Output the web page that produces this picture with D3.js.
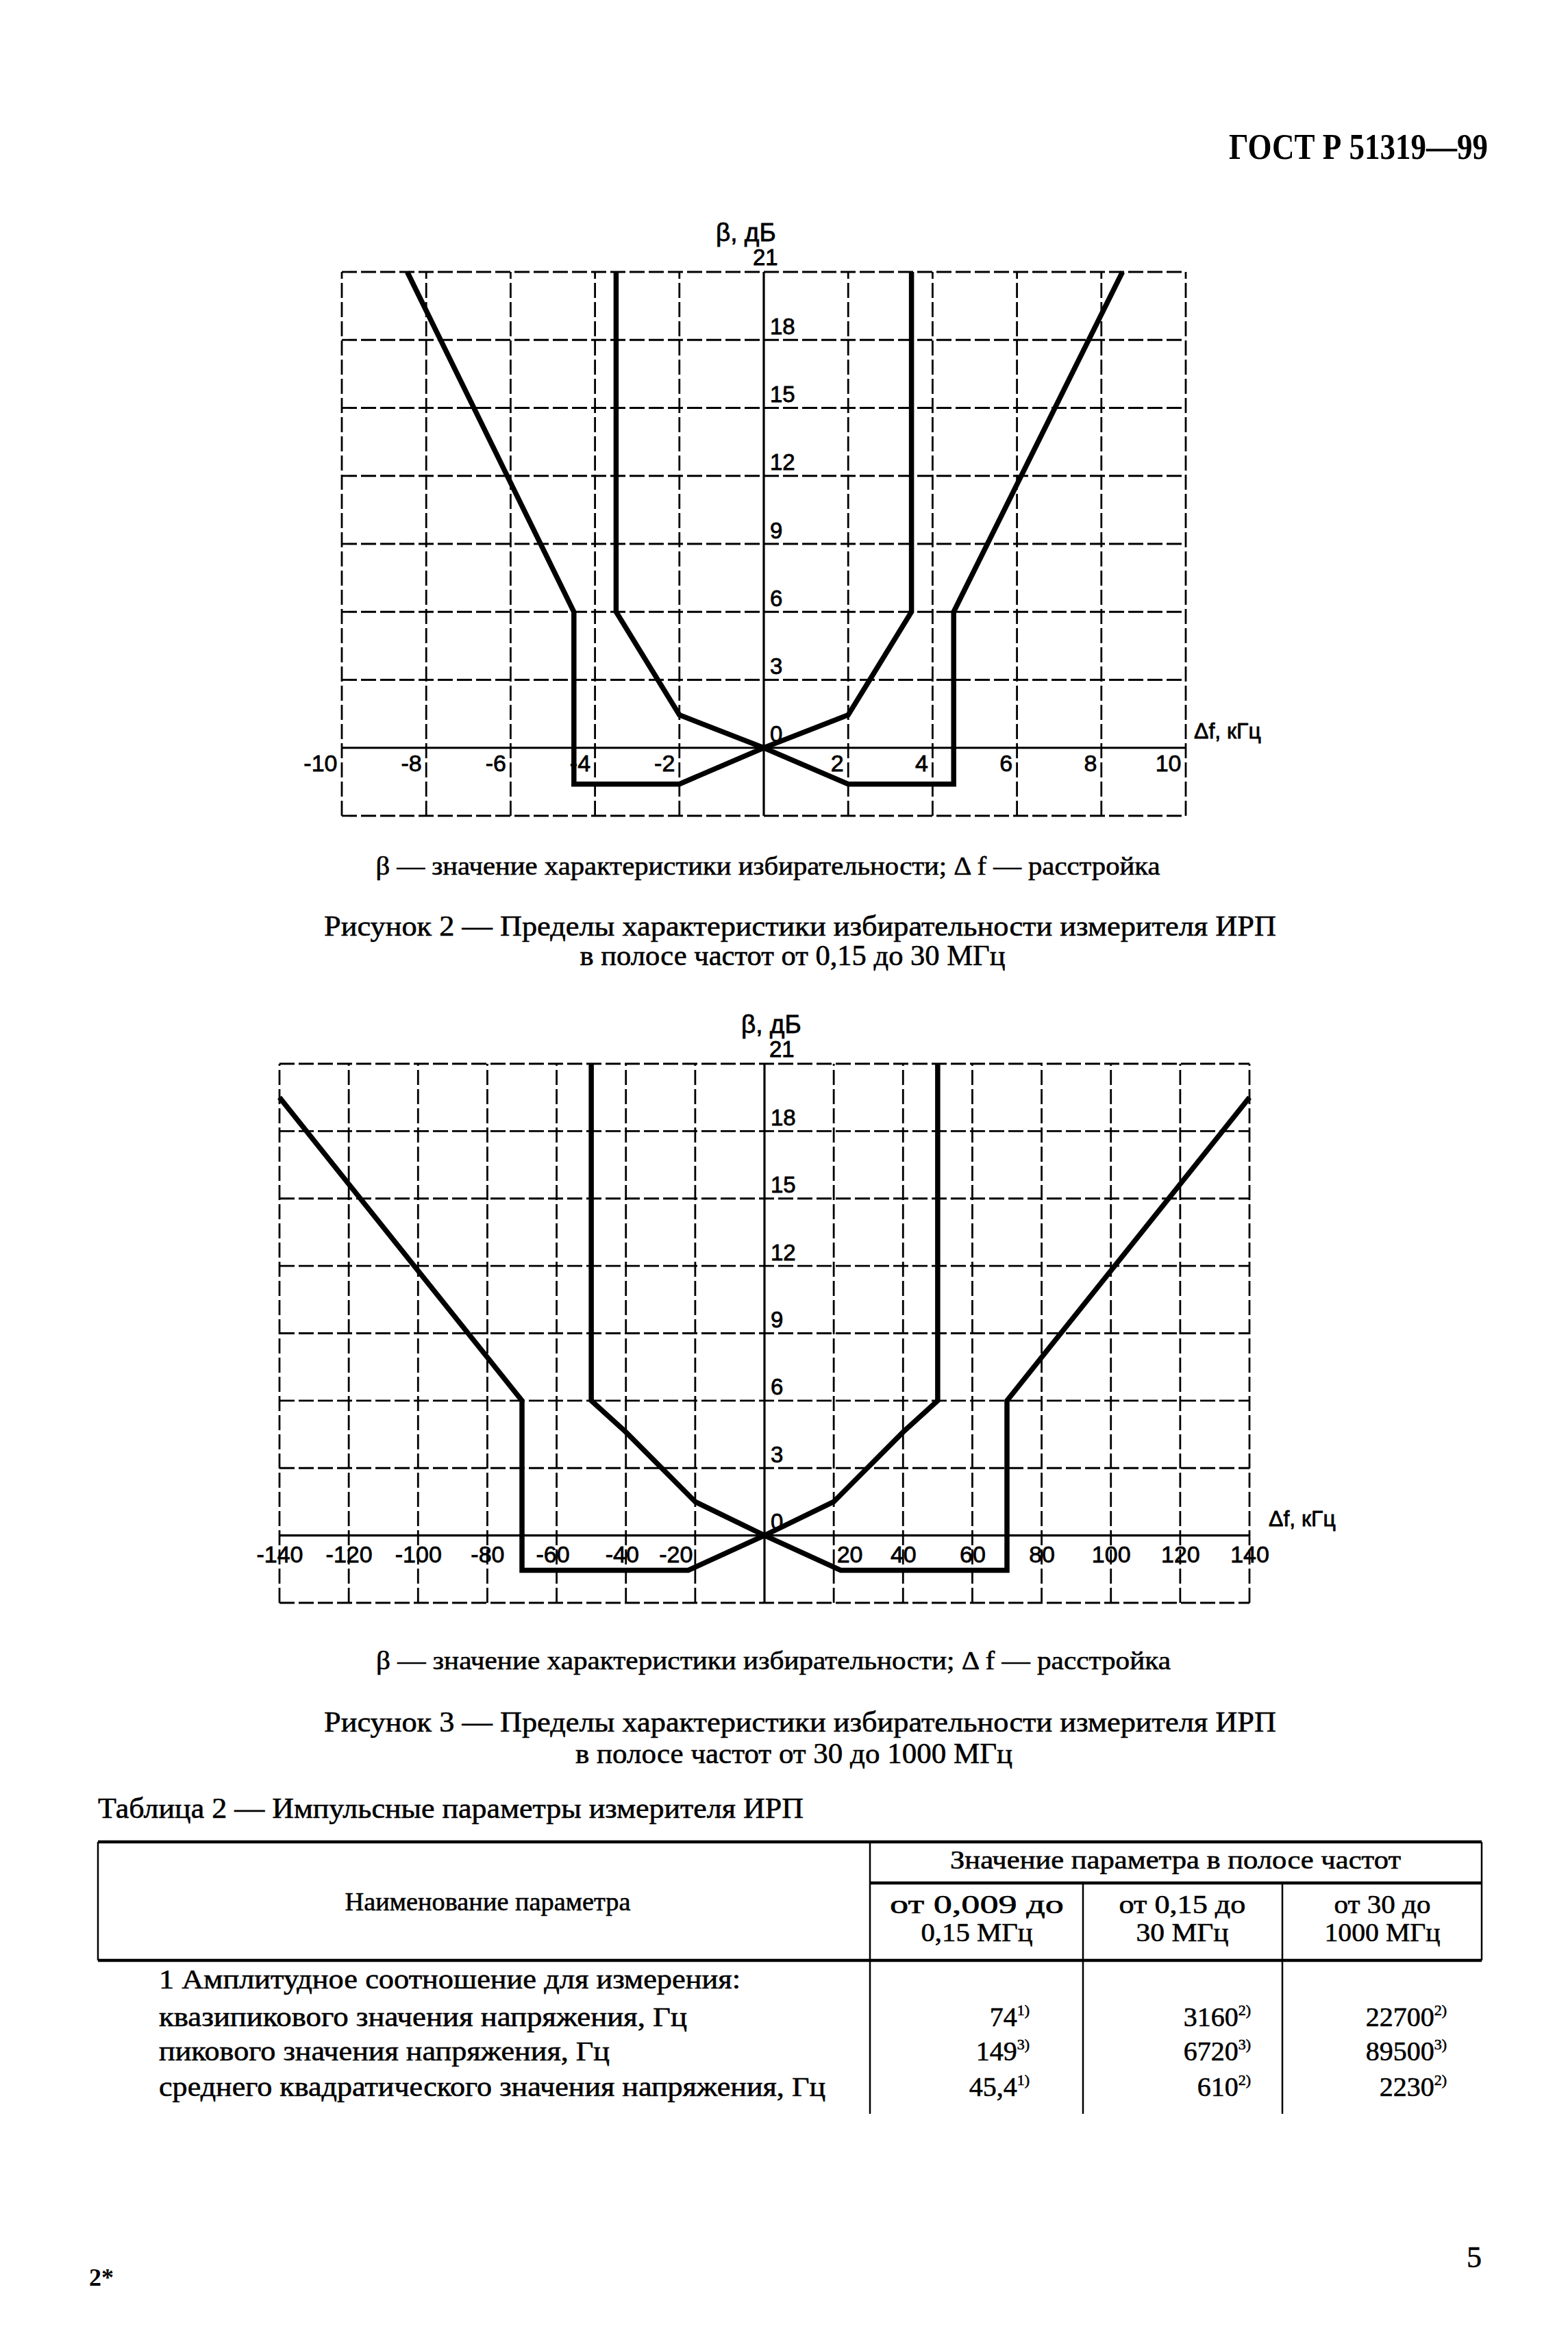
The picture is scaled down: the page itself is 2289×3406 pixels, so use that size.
<!DOCTYPE html>
<html><head><meta charset="utf-8">
<script src="https://cdn.jsdelivr.net/npm/d3@7/dist/d3.min.js"></script>
<style>html,body{margin:0;padding:0;background:#fff}</style>
</head><body>
<script>
// ---------- data ----------
const fig2XTicks = [-10, -8, -6, -4, -2, 2, 4, 6, 8, 10];
const fig3XTicks = [-140, -120, -100, -80, -60, -40, -20, 20, 40, 60, 80, 100, 120, 140];
const betaTicks = [0, 3, 6, 9, 12, 15, 18, 21];
const fig2Inner = [[-3.5, 21], [-3.5, 6], [-2, 1.45], [0, 0], [2, 1.45], [3.5, 6], [3.5, 21]];
const fig2Outer = [[-8.45, 21], [-4.5, 6], [-4.5, -1.6], [-2, -1.6], [0, 0], [2, -1.6], [4.5, -1.6], [4.5, 6], [8.5, 21]];
const fig3Inner = [[-50, 21], [-50, 6], [-40, 4.6], [-20, 1.5], [0, 0], [20, 1.5], [40, 4.6], [50, 6], [50, 21]];
const fig3Outer = [[-140, 19.5], [-70, 6], [-70, -1.55], [-22, -1.55], [0, 0], [22, -1.55], [70, -1.55], [70, 6], [140, 19.5]];

const tableRows = ["квазипикового значения напряжения, Гц", "пикового значения напряжения, Гц", "среднего квадратического значения напряжения, Гц"];
const band1Values = ["74", "149", "45,4"];
const band1Notes = ["1)", "3)", "1)"];
const band2Values = ["3160", "6720", "610"];
const band2Notes = ["2)", "3)", "2)"];
const band3Values = ["22700", "89500", "2230"];
const band3Notes = ["2)", "3)", "2)"];
const bandHeads = [["от 0,009 до", "0,15 МГц"], ["от 0,15 до", "30 МГц"], ["от 30 до", "1000 МГц"]];

// ---------- page ----------
const W = 2289, H = 3406;
const SANS = "'Liberation Sans', Arial, sans-serif";
const SERIF = "'Liberation Serif', 'Times New Roman', serif";
const svg = d3.select("body").append("svg").attr("width", W).attr("height", H);
svg.append("rect").attr("width", W).attr("height", H).attr("fill", "#fff");

function txt(x, y, s, o = {}) {
  const t = svg.append("text").attr("x", x).attr("y", y).text(s)
    .attr("font-family", o.family || SERIF).attr("font-size", o.size || 40)
    .attr("font-weight", o.weight || "normal").attr("fill", "#000")
    .attr("stroke", "#000").attr("stroke-width", o.sw === undefined ? 0.6 : o.sw)
    .attr("text-anchor", o.anchor || "start");
  if (o.len) t.attr("textLength", o.len).attr("lengthAdjust", "spacingAndGlyphs");
  return t;
}

// header
txt(2172, 232, "ГОСТ Р 51319—99", {size: 52, weight: "bold", anchor: "end", len: 378, sw: 0});

// ---------- charts ----------
function drawChart(cfg) {
  const x = d3.scaleLinear().domain(cfg.xDomain).range(cfg.xRange);
  const y = d3.scaleLinear().domain([-3, 21]).range(cfg.yRange);
  const g = svg.append("g");
  const dash = "22,6";
  const step = cfg.xStep;
  const xs = d3.range(cfg.xDomain[0], cfg.xDomain[1] + step / 2, step).filter(v => v !== 0);
  const ys = d3.range(-3, 21.5, 3).filter(v => v !== 0);
  g.selectAll(".vg").data(xs).join("line")
    .attr("x1", d => x(d)).attr("x2", d => x(d)).attr("y1", y(-3)).attr("y2", y(21))
    .attr("stroke", "#000").attr("stroke-width", 2.8).attr("stroke-dasharray", dash);
  g.selectAll(".hg").data(ys).join("line")
    .attr("x1", x(cfg.xDomain[0])).attr("x2", x(cfg.xDomain[1])).attr("y1", d => y(d)).attr("y2", d => y(d))
    .attr("stroke", "#000").attr("stroke-width", 2.8).attr("stroke-dasharray", dash);
  // solid axes
  g.append("line").attr("x1", x(cfg.xDomain[0])).attr("x2", x(cfg.xDomain[1])).attr("y1", y(0)).attr("y2", y(0))
    .attr("stroke", "#000").attr("stroke-width", 3.2);
  g.append("line").attr("x1", x(0)).attr("x2", x(0)).attr("y1", y(-3)).attr("y2", y(21))
    .attr("stroke", "#000").attr("stroke-width", 3.2);

  // curves
  const line = d3.line().x(d => x(d[0])).y(d => y(d[1]));
  [cfg.inner, cfg.outer].forEach(s => {
    g.append("path").attr("d", line(s)).attr("fill", "none").attr("stroke", "#000")
      .attr("stroke-width", 7.5).attr("stroke-linejoin", "miter");
  });

  // x tick labels
  const ax = g.append("g").attr("transform", `translate(0,${y(0)})`)
    .call(d3.axisBottom(x).tickValues(cfg.xTicks).tickSize(0).tickFormat(d => String(d)));
  ax.select(".domain").remove();
  ax.selectAll("text").attr("font-family", SANS).attr("font-size", 34).attr("fill", "#000")
    .attr("stroke", "#000").attr("stroke-width", 0.8)
    .attr("y", cfg.xLabelDy).attr("dy", 0)
    .attr("text-anchor", d => cfg.anchor(d)).attr("dx", d => cfg.anchorDx(d));
  // y tick labels
  const ay = g.append("g").attr("transform", `translate(${x(0)},0)`)
    .call(d3.axisRight(y).tickValues(betaTicks).tickSize(0));
  ay.select(".domain").remove();
  ay.selectAll("text").attr("font-family", SANS).attr("font-size", 33).attr("fill", "#000")
    .attr("stroke", "#000").attr("stroke-width", 0.8)
    .attr("x", d => d === 21 ? cfg.top21Dx : 9).attr("dy", d => d === 21 ? -11 : -9)
    .attr("text-anchor", "start");
  // axis titles
  g.append("text").attr("x", cfg.betaX).attr("y", y(21) - 45).text("β, дБ")
    .attr("font-family", SANS).attr("font-size", 37).attr("fill", "#000")
    .attr("stroke", "#000").attr("stroke-width", 0.8);
  g.append("text").attr("x", x(cfg.xDomain[1]) + cfg.dfDx).attr("y", y(0) - 14).text("Δf, кГц")
    .attr("font-family", SANS).attr("font-size", 32).attr("fill", "#000")
    .attr("stroke", "#000").attr("stroke-width", 0.8);
}

drawChart({
  xDomain: [-10, 10], xRange: [499, 1731], yRange: [1191, 397], xStep: 2,
  xTicks: fig2XTicks, inner: fig2Inner, outer: fig2Outer,
  anchor: d => "end", anchorDx: d => -7, xLabelDy: 34,
  top21Dx: -16, betaX: 1045, dfDx: 12
});
drawChart({
  xDomain: [-140, 140], xRange: [408, 1824], yRange: [2340, 1553], xStep: 20,
  xTicks: fig3XTicks, inner: fig3Inner, outer: fig3Outer,
  anchor: d => d === -20 ? "end" : d === 20 ? "start" : "middle",
  anchorDx: d => d === -20 ? -4 : d === 20 ? 4 : (d === -60 || d === -40 ? -6 : 0), xLabelDy: 39,
  top21Dx: 7, betaX: 1082, dfDx: 28
});

// captions
txt(1121, 1277, "β — значение характеристики избирательности; Δ f — расстройка", {size: 38, anchor: "middle", len: 1145});
txt(1168, 1366, "Рисунок 2 — Пределы  характеристики  избирательности измерителя ИРП", {size: 42, anchor: "middle", len: 1390});
txt(1157, 1409, "в полосе частот от 0,15 до 30 МГц", {size: 42, anchor: "middle", len: 621});

txt(1129, 2437, "β — значение характеристики избирательности; Δ f — расстройка", {size: 38, anchor: "middle", len: 1160});
txt(1168, 2528, "Рисунок 3 — Пределы  характеристики  избирательности измерителя ИРП", {size: 42, anchor: "middle", len: 1390});
txt(1159, 2574, "в полосе частот от 30 до 1000 МГц", {size: 42, anchor: "middle", len: 638});

// ---------- table ----------
txt(143, 2654, "Таблица 2 — Импульсные параметры измерителя ИРП", {size: 42, len: 1030});
const T = {left: 143, right: 2163, top: 2689, mid: 2749, head: 2862, bottom: 3086, cols: [1270, 1581, 1872]};
function hl(x1, x2, yy, w) { svg.append("line").attr("x1", x1).attr("x2", x2).attr("y1", yy).attr("y2", yy).attr("stroke", "#000").attr("stroke-width", w); }
function vl(xx, y1, y2, w) { svg.append("line").attr("x1", xx).attr("x2", xx).attr("y1", y1).attr("y2", y2).attr("stroke", "#000").attr("stroke-width", w); }
hl(T.left, T.right, T.top, 4.5);
hl(T.cols[0], T.right, T.mid, 4.5);
hl(T.left, T.right, T.head, 4.5);
vl(T.left, T.top, T.head, 2.5);
vl(T.right, T.top, T.head, 2.5);
vl(T.cols[0], T.top, T.bottom, 2.5);
vl(T.cols[1], T.mid, T.bottom, 2.5);
vl(T.cols[2], T.mid, T.bottom, 2.5);

txt(1716, 2728, "Значение параметра в полосе частот", {size: 38, anchor: "middle", len: 658});
txt(712, 2789, "Наименование параметра", {size: 38, anchor: "middle", len: 417});
const colCenters = [1426, 1726, 2018];
const headLens = [[254, 163], [185, 135], [141, 169]];
bandHeads.forEach((h, i) => {
  txt(colCenters[i], 2793, h[0], {size: 38, anchor: "middle", len: headLens[i][0]});
  txt(colCenters[i], 2834, h[1], {size: 38, anchor: "middle", len: headLens[i][1]});
});

txt(232, 2903, "1 Амплитудное соотношение для измерения:", {size: 40, len: 849});
const rowY = [2958, 3008, 3060];
const rowLens = [771, 658, 973];
tableRows.forEach((r, i) => txt(232, rowY[i], r, {size: 40, len: rowLens[i]}));

const bandVals = [band1Values, band2Values, band3Values];
const bandNotes = [band1Notes, band2Notes, band3Notes];
const valRight = [1503, 1826, 2112];
bandVals.forEach((vals, c) => {
  vals.forEach((v, i) => {
    const t = svg.append("text").attr("x", valRight[c]).attr("y", rowY[i]).attr("text-anchor", "end")
      .attr("font-family", SERIF).attr("font-size", 40).attr("fill", "#000")
      .attr("stroke", "#000").attr("stroke-width", 0.6);
    t.append("tspan").text(v);
    t.append("tspan").text(bandNotes[c][i]).attr("font-size", 22).attr("dy", -16);
  });
});

// page footer
txt(2163, 3310, "5", {size: 44, anchor: "end"});
txt(130, 3337, "2*", {size: 36, weight: "bold", sw: 0});
</script>
</body></html>
